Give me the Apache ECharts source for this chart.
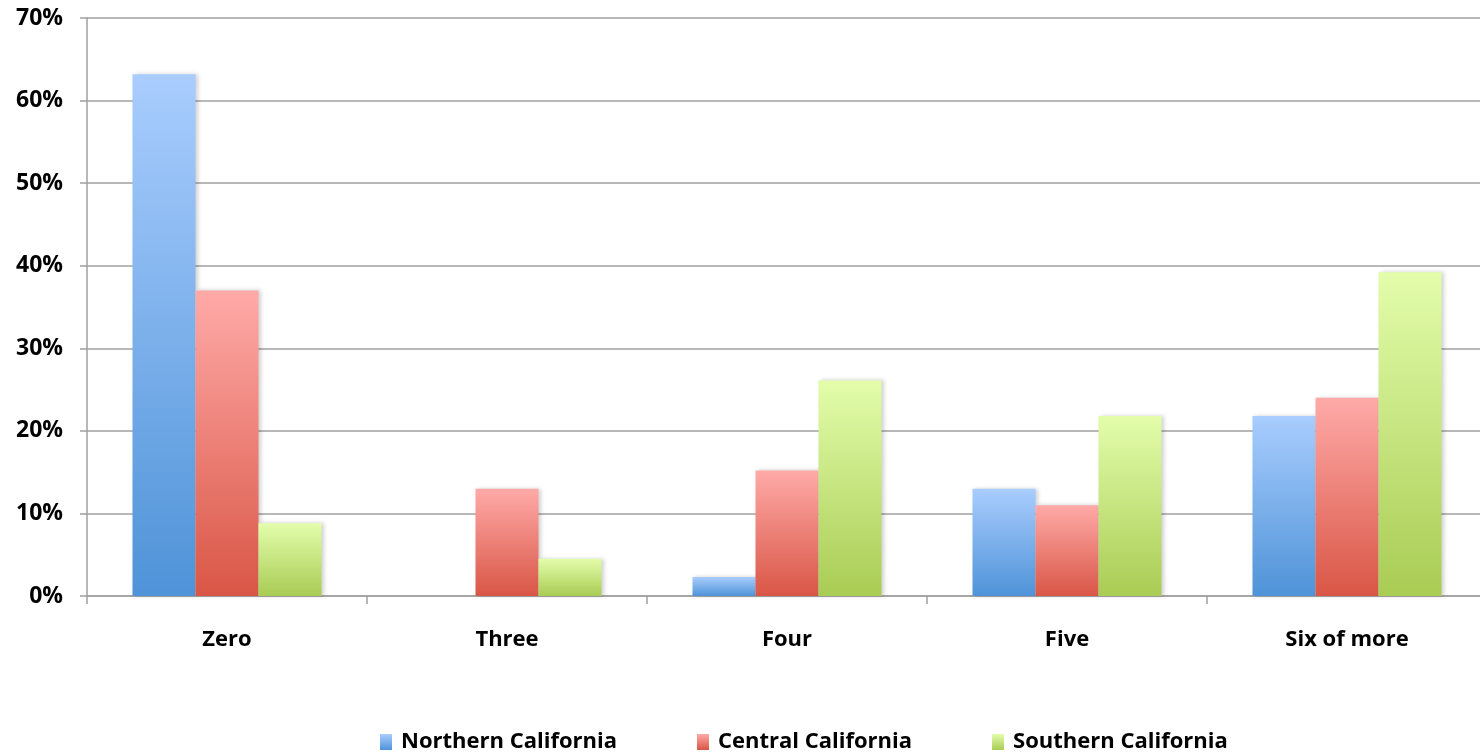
<!DOCTYPE html>
<html>
<head>
<meta charset="utf-8">
<script src="https://cdn.jsdelivr.net/npm/echarts@6/dist/echarts.min.js"></script>
<style>
html,body{margin:0;padding:0;background:#fff;}
#chart{width:1480px;height:754px;}
</style>
</head>
<body>
<div id="chart"></div>
<script>
const categories = ['Zero', 'Three', 'Four', 'Five', 'Six of more'];
const northern = [63.2, 0, 2.3, 13.0, 21.8];
const central = [37.0, 13.0, 15.2, 11.0, 24.0];
const southern = [8.8, 4.5, 26.1, 21.8, 39.2];
const seriesNames = ['Northern California', 'Central California', 'Southern California'];
const yTicks = [0, 10, 20, 30, 40, 50, 60, 70];

const FONT = '"Open Sans", "Liberation Sans", sans-serif';
function grad(top, bottom) {
  return new echarts.graphic.LinearGradient(0, 0, 0, 1, [
    { offset: 0, color: top },
    { offset: 1, color: bottom }
  ]);
}
const colors = [
  grad('#a9cdfe', '#4f93d8'),
  grad('#ffaaa8', '#d95646'),
  grad('#e3fdab', '#a9cc54')
];
const chart = echarts.init(document.getElementById('chart'));
const barStyle = (c) => ({
  color: c,
  shadowBlur: 4,
  shadowColor: 'rgba(0,0,0,0.18)',
  shadowOffsetX: 2,
  shadowOffsetY: 0
});
chart.setOption({
  animation: false,
  backgroundColor: '#fff',
  grid: { left: 87, width: 1400, top: 18, bottom: 158, containLabel: false, outerBoundsMode: 'none' },
  legend: {
    top: 726,
    left: 375,
    itemWidth: 12,
    itemHeight: 16,
    itemGap: 80,
    icon: 'rect',
    textStyle: { fontFamily: FONT, fontWeight: 'bold', fontSize: 22, color: '#000', padding: [0, 0, 0, 4] },
    data: seriesNames
  },
  xAxis: {
    type: 'category',
    data: categories,
    axisLine: { show: true, lineStyle: { color: '#a0a0a0', width: 1.5 } },
    axisTick: { show: true, length: 8, lineStyle: { color: '#a0a0a0', width: 1.5 } },
    axisLabel: { fontFamily: FONT, fontWeight: 'bold', fontSize: 22, color: '#000', margin: 33 }
  },
  yAxis: {
    type: 'value',
    min: yTicks[0],
    max: yTicks[yTicks.length - 1],
    interval: 10,
    axisLine: { show: true, lineStyle: { color: '#a0a0a0', width: 1.5 } },
    axisTick: { show: true, length: 7, lineStyle: { color: '#a0a0a0', width: 1.5 } },
    splitLine: { show: true, lineStyle: { color: '#a0a0a0', width: 1.5 } },
    axisLabel: { fontFamily: FONT, fontWeight: 'bold', fontSize: 23, color: '#000', margin: 24, formatter: '{value}%' }
  },
  series: [
    { name: seriesNames[0], type: 'bar', data: northern, barGap: '0%', barCategoryGap: '32.5%', itemStyle: barStyle(colors[0]) },
    { name: seriesNames[1], type: 'bar', data: central, barGap: '0%', barCategoryGap: '32.5%', itemStyle: barStyle(colors[1]) },
    { name: seriesNames[2], type: 'bar', data: southern, barGap: '0%', barCategoryGap: '32.5%', itemStyle: barStyle(colors[2]) }
  ]
});
</script>
</body>
</html>
